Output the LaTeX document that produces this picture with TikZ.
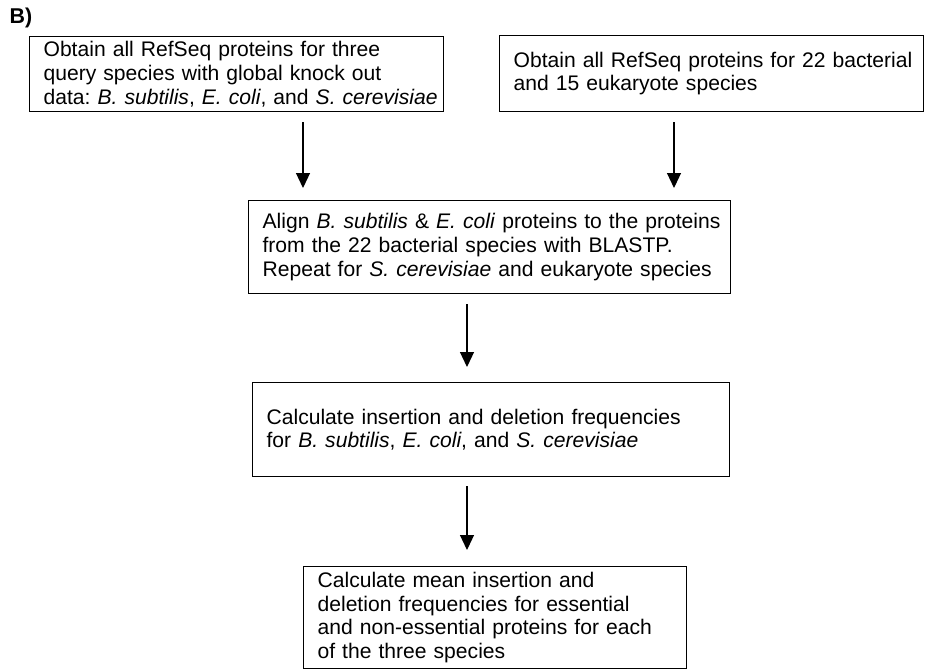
\documentclass[tikz,border=0pt]{standalone}
\usepackage{fontspec}
\setmainfont{Liberation Sans}
\usetikzlibrary{arrows.meta}
\newcommand{\oneline}[1]{\mbox{#1}}
\begin{document}
\frenchspacing
\begin{tikzpicture}[x=0.5pt,y=-0.5pt,
  box/.style={draw=black, line width=0.6pt, anchor=north west, align=left,
    inner xsep=7pt, inner ysep=0pt, font=\fontsize{10.55}{11.8}\selectfont},
  arr/.style={line width=0.6pt, -{Triangle[width=7pt,length=7.5pt]}}]
\useasboundingbox (0,0) rectangle (925,670);
\node[font=\bfseries\fontsize{10.7}{12}\selectfont] (lbl) at (21,18) {B)};
\node[box, minimum width=207pt, minimum height=37.5pt, text width=193pt] (b1) at (29,36)
 {\oneline{Obtain all RefSeq proteins for three}\\\oneline{query species with global knock out}\\\oneline{data: \textit{B. subtilis}, \textit{E. coli}, and \textit{S. cerevisiae}}};
\node[box, minimum width=212pt, minimum height=38pt, text width=198pt] (b2) at (499,35)
 {\oneline{Obtain all RefSeq proteins for 22 bacterial}\\\oneline{and 15 eukaryote species}};
\node[box, minimum width=241pt, minimum height=46.5pt, text width=227pt] (b3) at (248,200)
 {\oneline{Align \textit{B. subtilis} \& \textit{E. coli} proteins to the proteins}\\\oneline{from the 22 bacterial species with BLASTP.}\\\oneline{Repeat for \textit{S. cerevisiae} and eukaryote species}};
\node[box, minimum width=238.5pt, minimum height=47pt, text width=224.5pt] (b4) at (252,382)
 {\oneline{Calculate insertion and deletion frequencies}\\\oneline{for \textit{B. subtilis}, \textit{E. coli}, and \textit{S. cerevisiae}}};
\node[box, minimum width=191.5pt, minimum height=51pt, text width=177.5pt] (b5) at (303,566)
 {\oneline{Calculate mean insertion and}\\\oneline{deletion frequencies for essential}\\\oneline{and non-essential proteins for each}\\\oneline{of the three species}};
\coordinate (x1) at (303,0);
\coordinate (x2) at (674,0);
\coordinate (x3) at (467,0);
\draw[arr, shorten <=5pt, shorten >=6pt] (b1.south -| x1) -- (b3.north -| x1);
\draw[arr, shorten <=5pt, shorten >=6pt] (b2.south -| x2) -- (b3.north -| x2);
\draw[arr, shorten <=5pt, shorten >=7.5pt] (b3.south -| x3) -- (b4.north -| x3);
\draw[arr, shorten <=4.5pt, shorten >=8pt] (b4.south -| x3) -- (b5.north -| x3);
\end{tikzpicture}
\end{document}
